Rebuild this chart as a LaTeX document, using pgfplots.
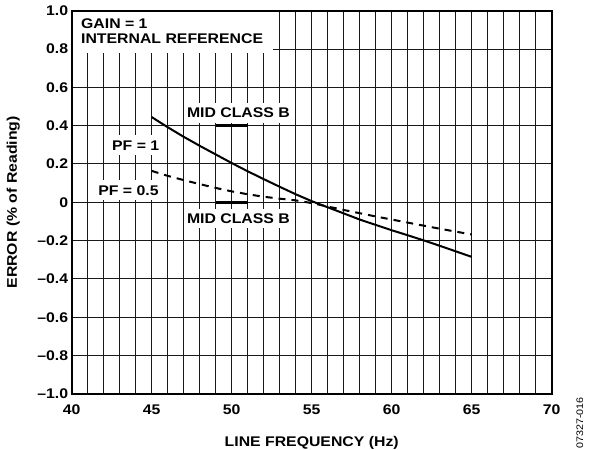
\documentclass[border=0pt]{standalone}
\usepackage{fontspec}
\setmainfont{Liberation Sans}[FakeStretch=1.13]
\usepackage{pgfplots}
\pgfplotsset{compat=1.18}

\newcommand{\lbl}{\fontsize{14bp}{15bp}\selectfont\bfseries}

\begin{document}
\begin{tikzpicture}
\path[use as bounding box] (0,0) rectangle (590bp,450bp);
\begin{axis}[
    at={(71.7bp,56.2bp)}, anchor=south west,
    scale only axis, width=480bp, height=383bp,
    xmin=40, xmax=70, ymin=-1, ymax=1,
    xtick={40,45,50,55,60,65,70},
    xticklabels={40,45,50,55,60,65,70},
    minor x tick num=4,
    ytick={-1,-0.8,-0.6,-0.4,-0.2,0,0.2,0.4,0.6,0.8,1},
    yticklabels={\textendash1.0,\textendash0.8,\textendash0.6,\textendash0.4,\textendash0.2,0,0.2,0.4,0.6,0.8,1.0},
    major tick length=0, minor tick length=0,
    grid=both,
    major grid style={black!90, line width=1bp},
    minor grid style={black!90, line width=1bp},
    axis line style={line width=2bp},
    tick label style={font=\lbl},
    xticklabel style={yshift=-7.5bp},
    xlabel={LINE FREQUENCY (Hz)},
    ylabel={ERROR (\% of Reading)},
    label style={font=\lbl},
    xlabel style={at={(axis description cs:0.5,-0.138)}, anchor=base},
    ylabel style={at={(axis description cs:-0.114,0.5)}, anchor=base},
]

% text boxes hiding the grid
\fill[white] (rel axis cs:0,1) rectangle (axis cs:52.58,0.782);
\node[anchor=base west, font=\lbl, inner sep=0] at (axis cs:40.58,0.908) {GAIN = 1};
\node[anchor=base west, font=\lbl, inner sep=0] at (axis cs:40.58,0.830) {INTERNAL REFERENCE};

\node[anchor=base, fill=white, font=\lbl, inner xsep=3.5bp, inner ysep=5bp] at (axis cs:50.42,0.442) {MID CLASS B};
\node[anchor=base, fill=white, font=\lbl, inner xsep=3.5bp, inner ysep=5bp] at (axis cs:50.42,-0.110) {MID CLASS B};
\node[anchor=base east, fill=white, font=\lbl, inner xsep=3.5bp, inner ysep=5bp] at (axis cs:45.7,0.273) {PF = 1};
\node[anchor=base east, fill=white, font=\lbl, inner xsep=3.5bp, inner ysep=5bp] at (axis cs:45.66,0.038) {PF = 0.5};

% MID CLASS B limits
\addplot[black, line width=3bp] coordinates {(49,0.4) (51,0.4)};
\addplot[black, line width=3bp] coordinates {(49,0) (51,0)};

% PF = 1
\addplot[black, line width=2bp] coordinates {
(45,0.445) (46,0.392) (47,0.342) (48,0.295) (49,0.250) (50,0.205)
(51,0.162) (52,0.121) (53,0.081) (54,0.042) (55,0.006) (56,-0.026)
(57,-0.058) (58,-0.090) (59,-0.118) (60,-0.146) (61,-0.172) (62,-0.199)
(63,-0.227) (64,-0.256) (65,-0.285)};

% PF = 0.5
\addplot[black, line width=2bp, dash pattern=on 7bp off 6bp] coordinates {
(45,0.164) (46,0.138) (47,0.116) (48,0.095) (49,0.075) (50,0.057)
(51,0.042) (52,0.029) (53,0.019) (54,0.010) (55,-0.004) (56,-0.022)
(57,-0.040) (58,-0.057) (59,-0.074) (60,-0.090) (61,-0.106) (62,-0.122)
(63,-0.138) (64,-0.153) (65,-0.168)};

\draw[line width=2bp] (rel axis cs:0,0) rectangle (rel axis cs:1,1);
\end{axis}
\node[rotate=90, anchor=base west, font=\fontsize{9.5bp}{10bp}\selectfont, inner sep=0] at (583bp,1bp) {07327-016};
\end{tikzpicture}
\end{document}
